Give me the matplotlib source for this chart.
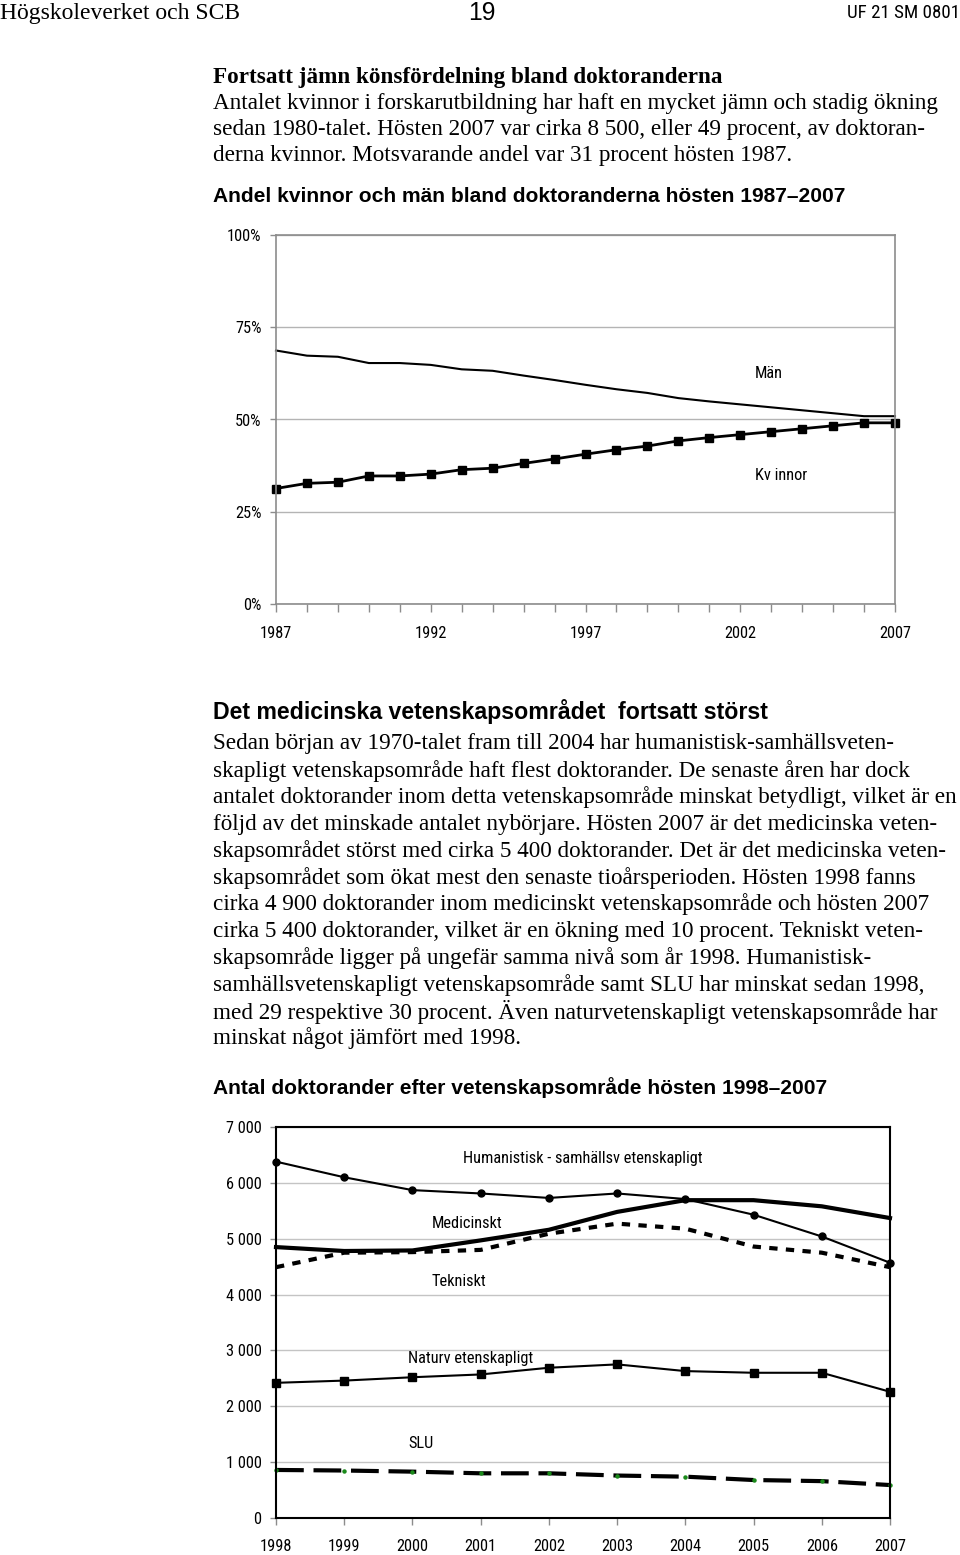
import matplotlib
matplotlib.use("Agg")
import matplotlib.pyplot as plt
from matplotlib import font_manager
from matplotlib.ticker import MultipleLocator, FixedLocator, FuncFormatter

# ---------------- data ----------------
years1 = list(range(1987, 2008))
man_pct = [68.7, 67.3, 67.0, 65.3, 65.3, 64.8, 63.6, 63.2, 61.9, 60.7, 59.4,
           58.2, 57.2, 55.8, 54.9, 54.1, 53.3, 52.5, 51.7, 50.9, 50.9]
kvinnor_pct = [31.3, 32.7, 33.0, 34.7, 34.7, 35.2, 36.4, 36.8, 38.1, 39.3, 40.6,
               41.8, 42.8, 44.2, 45.1, 45.9, 46.7, 47.5, 48.3, 49.1, 49.1]
y1_ticks = [0, 25, 50, 75, 100]
x1_ticklabels = [1987, 1992, 1997, 2002, 2007]

years2 = list(range(1998, 2008))
humsam = [6380, 6100, 5870, 5810, 5730, 5810, 5710, 5430, 5040, 4570]
medicin = [4850, 4780, 4790, 4970, 5160, 5480, 5690, 5690, 5580, 5370]
tekniskt = [4490, 4750, 4760, 4800, 5090, 5270, 5180, 4860, 4750, 4490]
naturvet = [2420, 2460, 2520, 2570, 2690, 2750, 2630, 2600, 2600, 2260]
slu = [860, 850, 830, 800, 800, 760, 740, 680, 660, 590]
y2_ticks = [0, 1000, 2000, 3000, 4000, 5000, 6000, 7000]

# ---------------- fonts ----------------
def find_narrow():
    cands = []
    for f in font_manager.fontManager.ttflist:
        n = f.fname.replace("-", "").replace("_", "").lower()
        if f.style != "normal" or f.weight not in (400, "normal", "regular"):
            continue
        if "liberationsansnarrow" in n:
            cands.append((0, f.fname))
        elif "robotocondensed" in n:
            cands.append((1, f.fname))
        elif "dejavusanscondensed" in n and "bold" not in n and "oblique" not in n:
            cands.append((2, f.fname))
        elif "opensanscondensed" in n or ("condensed" in n and "sans" in n and "bold" not in n):
            cands.append((3, f.fname))
    if cands:
        cands.sort()
        return font_manager.FontProperties(fname=cands[0][1])
    return font_manager.FontProperties(family="Roboto")


NARROW_FP = find_narrow()
SERIF = ["Liberation Serif", "DejaVu Serif"]
SANS = ["Liberation Sans", "DejaVu Sans"]

W, H = 960, 1555
fig = plt.figure(figsize=(W / 100, H / 100), dpi=100)
fig.patch.set_facecolor("white")
renderer = fig.canvas.get_renderer()


def fx(px):
    return px / W


def fy(py):
    return 1 - py / H


def narrow(size):
    fp = NARROW_FP.copy()
    fp.set_size(size)
    return fp


def fit_size(text, target_px, fp=None, **kw):
    if fp is not None:
        t = fig.text(0, 0, text, fontproperties=narrow(10))
    else:
        t = fig.text(0, 0, text, fontsize=10, **kw)
    w = t.get_window_extent(renderer).width
    t.remove()
    return 10 * target_px / w


def put(x, y, s, size, ha="left", fp=None, **kw):
    if fp is not None:
        fig.text(fx(x), fy(y), s, fontproperties=narrow(size), ha=ha, va="center")
    else:
        fig.text(fx(x), fy(y), s, fontsize=size, ha=ha, va="center", **kw)


# ---------------- header ----------------
put(0, 13, "Högskoleverket och SCB", fit_size("Högskoleverket och SCB", 240, family=SERIF), family=SERIF)
put(482, 13, "19", fit_size("19", 27, family=SANS), ha="center", family=SANS)
put(960, 13, "UF 21 SM 0801", fit_size("UF 21 SM 0801", 112, fp=1), ha="right", fp=1)

# ---------------- paragraph 1 ----------------
h1 = "Fortsatt jämn könsfördelning bland doktoranderna"
put(213, 78, h1, fit_size(h1, 512, family=SERIF, weight="bold"), family=SERIF, weight="bold")

ref_line = "antalet doktorander inom detta vetenskapsområde minskat betydligt, vilket är en"
body_size = fit_size(ref_line, 745, family=SERIF)

para1 = ["Antalet kvinnor i forskarutbildning har haft en mycket jämn och stadig ökning",
         "sedan 1980-talet. Hösten 2007 var cirka 8 500, eller 49 procent, av doktoran-",
         "derna kvinnor. Motsvarande andel var 31 procent hösten 1987."]
for i, line in enumerate(para1):
    put(213, 104 + i * 26, line, body_size, family=SERIF)

t1 = "Andel kvinnor och män bland doktoranderna hösten 1987–2007"
put(213, 197, t1, fit_size(t1, 635, family=SANS, weight="bold"), family=SANS, weight="bold")

# ---------------- chart 1 ----------------
tick_size = fit_size("2007", 32, fp=1)
GRAY = "#8c8c8c"
ax1 = fig.add_axes([fx(276), fy(604), (895 - 276) / W, (604 - 235) / H])
ax1.set_xlim(1987, 2007)
ax1.set_ylim(0, 100)
for sp in ax1.spines.values():
    sp.set_color(GRAY)
    sp.set_linewidth(1.2)
ax1.yaxis.set_major_locator(FixedLocator(y1_ticks))
ax1.yaxis.set_major_formatter(FuncFormatter(lambda v, p: f"{int(v)}%"))
ax1.xaxis.set_major_locator(FixedLocator(x1_ticklabels))
ax1.xaxis.set_minor_locator(MultipleLocator(1))
ax1.tick_params(axis="y", length=4.5, width=1, color=GRAY, pad=6)
ax1.tick_params(axis="x", which="both", length=5.5, width=1, color=GRAY, direction="out")
ax1.tick_params(axis="x", which="major", pad=10)
for lab in ax1.get_xticklabels() + ax1.get_yticklabels():
    lab.set_fontproperties(narrow(tick_size))
ax1.grid(axis="y", color="#b4b4b4", linewidth=1)
ax1.set_axisbelow(True)
ax1.plot(years1, man_pct, color="black", linewidth=1.5, clip_on=False)
ax1.plot(years1, kvinnor_pct, color="black", linewidth=2, marker="s", markersize=6,
         clip_on=False)

lab_size = fit_size("Humanistisk - samhällsv etenskapligt", 239, fp=1)
put(755, 373, "Män", lab_size, fp=1)
put(755, 475, "Kv innor", lab_size, fp=1)

# ---------------- paragraph 2 ----------------
h2 = "Det medicinska vetenskapsområdet  fortsatt störst"
put(213, 711, h2, fit_size(h2, 557, family=SANS, weight="bold"), family=SANS, weight="bold")

para2 = ["Sedan början av 1970-talet fram till 2004 har humanistisk-samhällsveten-",
         "skapligt vetenskapsområde haft flest doktorander. De senaste åren har dock",
         "antalet doktorander inom detta vetenskapsområde minskat betydligt, vilket är en",
         "följd av det minskade antalet nybörjare. Hösten 2007 är det medicinska veten-",
         "skapsområdet störst med cirka 5 400 doktorander. Det är det medicinska veten-",
         "skapsområdet som ökat mest den senaste tioårsperioden. Hösten 1998 fanns",
         "cirka 4 900 doktorander inom medicinskt vetenskapsområde och hösten 2007",
         "cirka 5 400 doktorander, vilket är en ökning med 10 procent. Tekniskt veten-",
         "skapsområde ligger på ungefär samma nivå som år 1998. Humanistisk-",
         "samhällsvetenskapligt vetenskapsområde samt SLU har minskat sedan 1998,",
         "med 29 respektive 30 procent. Även naturvetenskapligt vetenskapsområde har",
         "minskat något jämfört med 1998."]
for i, line in enumerate(para2):
    put(213, 744 + i * 26.75, line, body_size, family=SERIF)

t2 = "Antal doktorander efter vetenskapsområde hösten 1998–2007"
put(213, 1088, t2, fit_size(t2, 615, family=SANS, weight="bold"), family=SANS, weight="bold")

# ---------------- chart 2 ----------------
plt.rcParams["lines.scale_dashes"] = False
ax2 = fig.add_axes([fx(276), fy(1518), (890 - 276) / W, (1518 - 1127) / H])
ax2.set_xlim(1998, 2007)
ax2.set_ylim(0, 7000)
for sp in ax2.spines.values():
    sp.set_color("black")
    sp.set_linewidth(1.5)
ax2.yaxis.set_major_locator(FixedLocator(y2_ticks))
ax2.yaxis.set_major_formatter(FuncFormatter(lambda v, p: f"{int(v):,}".replace(",", " ")))
ax2.xaxis.set_major_locator(MultipleLocator(1))
ax2.tick_params(axis="y", length=4.5, width=1, color=GRAY, pad=6)
ax2.tick_params(axis="x", length=5, width=1, color=GRAY, pad=10)
for lab in ax2.get_xticklabels() + ax2.get_yticklabels():
    lab.set_fontproperties(narrow(tick_size))
ax2.grid(axis="y", color="#c4c4c4", linewidth=1)
ax2.set_axisbelow(True)

ax2.plot(years2, humsam, color="black", linewidth=1.5, marker="o", markersize=5, clip_on=False)
ax2.plot(years2, medicin, color="black", linewidth=3, clip_on=False)
ax2.plot(years2, tekniskt, color="black", linewidth=3, dashes=(6, 6), clip_on=False)
ax2.plot(years2, naturvet, color="black", linewidth=1.5, marker="s", markersize=6, clip_on=False)
ax2.plot(years2, slu, color="black", linewidth=3, dashes=(20, 7), clip_on=False)
ax2.plot(years2, slu, linestyle="none", marker="o", markersize=2.2, color="#1a8a1a",
         clip_on=False)

put(463, 1158, "Humanistisk - samhällsv etenskapligt", lab_size, fp=1)
put(432, 1224, "Medicinskt", lab_size, fp=1)
put(432, 1281, "Tekniskt", lab_size, fp=1)
put(408, 1359, "Naturv etenskapligt", lab_size, fp=1)
put(408, 1444, "SLU", lab_size, fp=1)

fig.savefig("out.png", dpi=100, facecolor="white")
